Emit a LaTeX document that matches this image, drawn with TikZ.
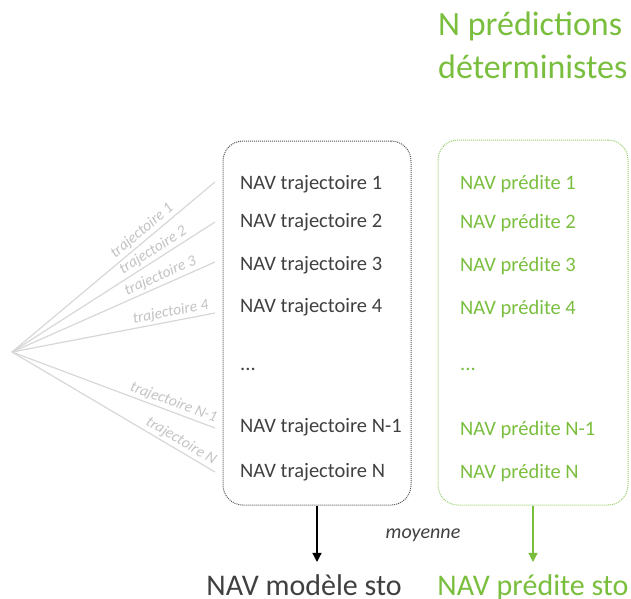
\documentclass[tikz,border=0pt]{standalone}
\usepackage{fontspec}
\setmainfont{Carlito}
\usepackage{xcolor}
\usetikzlibrary{arrows.meta}

\definecolor{stogray}{RGB}{64,64,64}
\definecolor{detgreen}{RGB}{122,190,62}
\definecolor{fangray}{RGB}{215,215,215}
\definecolor{labelgray}{RGB}{195,195,195}
\definecolor{boxgray}{RGB}{85,85,85}
\definecolor{boxgreen}{RGB}{150,206,105}

\tikzset{
  stotext/.style={font=\fontsize{20.5}{24}\selectfont, text=stogray, anchor=base west, inner sep=0pt},
  dettext/.style={stotext, text=detgreen},
  trajlabel/.style={font=\fontsize{15.5}{18}\selectfont\itshape, text=labelgray, sloped, above, inner sep=2pt},
  stobox/.style={draw=boxgray, line width=1pt, dash pattern=on 1pt off 1pt, rounded corners=20pt},
  detbox/.style={stobox, draw=boxgreen},
  result/.style={font=\fontsize{30}{34}\selectfont, anchor=base, inner sep=0pt},
}

\begin{document}
\begin{tikzpicture}[x=1pt, y=-1pt, >={Triangle[width=9pt,length=9pt]}]
  \useasboundingbox (0,0) rectangle (631,598);

  % boxes
  \node[stobox, minimum width=188pt, minimum height=364pt] (modbox) at (317,323) {};
  \node[detbox, minimum width=190pt, minimum height=365pt] (predbox) at (533,322.5) {};

  % titre
  \node[font=\fontsize{34}{43}\selectfont, text=detgreen, align=left, anchor=base west, inner sep=0pt]
       (titre) at (438,78) {N prédictions\\déterministes};

  % NAV par trajectoire
  \node[stotext] (t1)  at (240,189) {NAV trajectoire 1};
  \node[stotext] (t2)  at (240,227) {NAV trajectoire 2};
  \node[stotext] (t3)  at (240,270) {NAV trajectoire 3};
  \node[stotext] (t4)  at (240,312) {NAV trajectoire 4};
  \node[stotext] (tdots) at (240,370) {...};
  \node[stotext] (tn1) at (240,432) {NAV trajectoire N-1};
  \node[stotext] (tn)  at (240,477) {NAV trajectoire N};

  % NAV predites
  \node[dettext] (p1)  at (460,189) {NAV prédite 1};
  \node[dettext] (p2)  at (460,228) {NAV prédite 2};
  \node[dettext] (p3)  at (460,271) {NAV prédite 3};
  \node[dettext] (p4)  at (460,314) {NAV prédite 4};
  \node[dettext] (pdots) at (460,370) {...};
  \node[dettext] (pn1) at (460,435) {NAV prédite N-1};
  \node[dettext] (pn)  at (460,478) {NAV prédite N};

  % faisceau des trajectoires
  \coordinate (fan) at (12,352);
  \coordinate (e1) at (215,182);
  \coordinate (e2) at (215,222);
  \coordinate (e3) at (215,262);
  \coordinate (e4) at (215,313);
  \coordinate (e5) at (215,428);
  \coordinate (e6) at (215,472);

  \path[draw=fangray, line width=1.2pt]
    (fan) edge node[trajlabel, pos=0.67] {trajectoire 1}   (e1)
          edge node[trajlabel, pos=0.72] {trajectoire 2}   (e2)
          edge node[trajlabel, pos=0.75] {trajectoire 3}   (e3)
          edge node[trajlabel, pos=0.79] {trajectoire 4}   (e4)
          edge node[trajlabel, pos=0.78] {trajectoire N-1} (e5)
          edge node[trajlabel, pos=0.81] {trajectoire N}   (e6);

  % resultats
  \node[result, text=stogray]  (modele) at (304,595) {NAV modèle sto};
  \node[result, text=detgreen] (predite) at (533,595) {NAV prédite sto};

  \draw[->, line width=1.3pt, black, shorten >=12pt] (modbox.south) -- (modbox.south |- modele.north);
  \draw[->, line width=1.3pt, detgreen, shorten >=12pt] (predbox.south) -- (predbox.south |- predite.north);

  \node[font=\fontsize{20}{24}\selectfont\itshape, text=stogray] (moy) at (423,535) {moyenne};
\end{tikzpicture}
\end{document}
